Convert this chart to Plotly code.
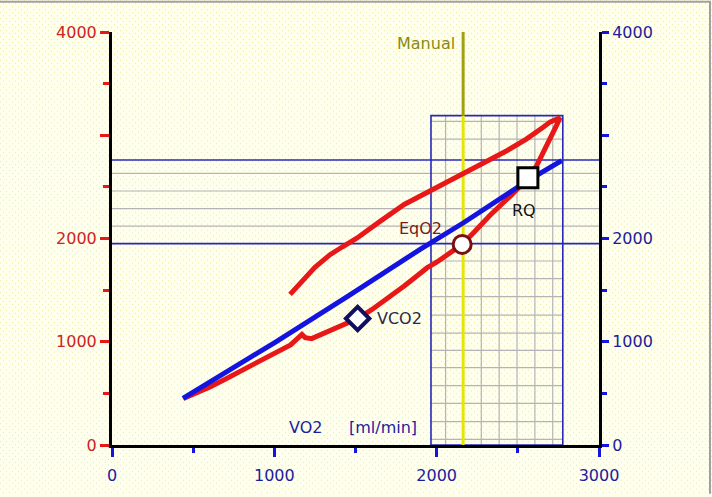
import plotly.graph_objects as go
import zlib, struct, base64

# ---------------- data ----------------
# red curve: VCO2 (left axis) vs VO2
vco2_x = [440, 520, 600, 700, 800, 900, 1000, 1100, 1170, 1190, 1230, 1300, 1420, 1513,
          1600, 1700, 1800, 1880, 1940, 2000, 2080, 2157, 2230, 2329, 2460, 2560, 2616,
          2680, 2740, 2760,
          2700, 2656, 2550, 2432, 2300, 2163, 2050, 1959, 1800, 1651, 1508, 1420, 1343,
          1250, 1170, 1097]
vco2_y = [450, 500, 560, 640, 720, 800, 880, 970, 1070, 1040, 1030, 1080, 1170, 1225,
          1310, 1420, 1540, 1640, 1715, 1770, 1860, 1943, 2060, 2226, 2420, 2580, 2706,
          2900, 3100, 3170,
          3130, 3078, 2960, 2850, 2740, 2630, 2540, 2466, 2330, 2166, 2003, 1920, 1843,
          1720, 1590, 1459]

# blue curve: VO2 (right axis) vs VO2
vo2_x = [437, 700, 1000, 1466, 1898, 2163, 2391, 2493, 2637, 2770]
vo2_y = [451, 700, 990, 1455, 1895, 2150, 2390, 2490, 2630, 2754]

# markers
marker_names = ["VCO2", "EqO2", "RQ"]
marker_x = [1513, 2157, 2562]
marker_y = [1225, 1943, 2588]

manual_x = 2163

# threshold band and zoom-grid
band_y = [1950, 2760]
band_grid_y = [2120, 2290, 2460, 2630]
rect_x = [1965, 2777]
rect_top = 3190
rect_grid_x = [2055, 2165, 2275, 2385, 2495, 2605, 2715]
rect_grid_y = [55, 227, 403, 576, 749, 916, 1084, 1257, 1437, 1612, 1782, 2962, 3135]

x_ticks = [0, 1000, 2000, 3000]
y_ticks = [0, 1000, 2000, 3000, 4000]
y_ticktext = ["0", "1000", "2000", "", "4000"]

RED = "#e81818"
BLUE = "#1414e0"
NAVY = "#1c1c9c"
LRED = "#d02222"
FONT = "DejaVu Sans"
FS = 16

# ---------- dotted background texture ----------
W, H = 712, 497
BG = bytes((255, 255, 238))
DOT = bytes((238, 234, 168))
rows = []
for yy in range(H):
    row = bytearray(b"\x00")
    for xx in range(W):
        if (yy % 6 == 0 and xx % 6 == 0) or (yy % 6 == 3 and xx % 6 == 3):
            row += DOT
        else:
            row += BG
    rows.append(bytes(row))
raw = b"".join(rows)

def chunk(tag, data):
    c = struct.pack(">I", len(data)) + tag + data
    return c + struct.pack(">I", zlib.crc32(tag + data) & 0xffffffff)

png = (b"\x89PNG\r\n\x1a\n" + chunk(b"IHDR", struct.pack(">IIBBBBB", W, H, 8, 2, 0, 0, 0))
       + chunk(b"IDAT", zlib.compress(raw, 9)) + chunk(b"IEND", b""))
bg_uri = "data:image/png;base64," + base64.b64encode(png).decode()

ML, MR, MT, MB = 112, 113, 32, 49
PW, PH = W - ML - MR, H - MT - MB

fig = go.Figure()

fig.add_trace(go.Scatter(x=vco2_x, y=vco2_y, mode="lines",
                         line=dict(color=RED, width=5), hoverinfo="skip"))
fig.add_trace(go.Scatter(x=vo2_x, y=vo2_y, mode="lines", yaxis="y2",
                         line=dict(color=BLUE, width=5), hoverinfo="skip"))
# markers
fig.add_trace(go.Scatter(x=[marker_x[0]], y=[marker_y[0]], mode="markers", yaxis="y2",
                         marker=dict(symbol="diamond", size=18, color="white",
                                     line=dict(color="#101060", width=4))))
fig.add_trace(go.Scatter(x=[marker_x[1]], y=[marker_y[1]], mode="markers", yaxis="y2",
                         marker=dict(symbol="circle", size=18, color="white",
                                     line=dict(color="#7a1010", width=3))))
fig.add_trace(go.Scatter(x=[marker_x[2]], y=[marker_y[2]], mode="markers", yaxis="y2",
                         marker=dict(symbol="square", size=20, color="white",
                                     line=dict(color="black", width=3))))

shapes = []
for gx in rect_grid_x:
    shapes.append(dict(type="line", xref="x", yref="y", x0=gx, x1=gx, y0=0, y1=rect_top,
                       line=dict(color="#b4b4b4", width=1.2), layer="below"))
for gy in rect_grid_y:
    shapes.append(dict(type="line", xref="x", yref="y", x0=rect_x[0], x1=rect_x[1], y0=gy, y1=gy,
                       line=dict(color="#b4b4b4", width=1.2), layer="below"))
for gy in band_grid_y:
    shapes.append(dict(type="line", xref="x", yref="y", x0=0, x1=3000, y0=gy, y1=gy,
                       line=dict(color="#b4b4b4", width=1.2), layer="below"))
for by in band_y:
    shapes.append(dict(type="line", xref="x", yref="y", x0=0, x1=3000, y0=by, y1=by,
                       line=dict(color="#2828b8", width=1.6), layer="below"))
shapes.append(dict(type="rect", xref="x", yref="y", x0=rect_x[0], x1=rect_x[1], y0=0, y1=rect_top,
                   line=dict(color="#2828b8", width=1.6), layer="below"))
shapes.append(dict(type="line", xref="x", yref="y", x0=manual_x, x1=manual_x, y0=rect_top, y1=4000,
                   line=dict(color="#a0a010", width=3), layer="below"))
shapes.append(dict(type="line", xref="x", yref="y", x0=manual_x, x1=manual_x, y0=0, y1=rect_top,
                   line=dict(color="#e6e600", width=3), layer="below"))
# window frame (top & right)
shapes.append(dict(type="line", xref="paper", yref="paper", x0=-ML / PW, x1=(W - 1) / PW * 1 - ML / PW,
                   y0=1 + (MT - 1.5) / PH, y1=1 + (MT - 1.5) / PH,
                   line=dict(color="#a0a0a0", width=2)))
shapes.append(dict(type="line", xref="paper", yref="paper", x0=(W - 2 - ML) / PW, x1=(W - 2 - ML) / PW,
                   y0=-MB / PH, y1=1 + (MT - 1.5) / PH,
                   line=dict(color="#a0a0a0", width=2)))

ann = []
def txt(t, x, y, color, xanchor="left", size=FS):
    ann.append(dict(text=t, x=x, y=y, xref="x", yref="y", showarrow=False, xanchor=xanchor,
                    yanchor="middle", font=dict(family=FONT, size=size, color=color)))

txt("VCO2", -197, 3134, LRED, "right")
txt("[ml/min]", -197, 2867, LRED, "right")
txt("VO2", 3192, 3138, NAVY)
txt("[ml/min]", 3192, 2883, NAVY)
txt("VO2", 1078, 173, NAVY)
txt("[ml/min]", 1448, 173, NAVY)
txt("Manual", 2126, 3884, "#8a8a10", "right")
txt(marker_names[1], 1756, 2099, "#7a1a1a")
txt(marker_names[2], 2452, 2274, "#101010")
txt(marker_names[0], 1620, 1226, "#2a2a44")

fig.update_layout(
    width=W, height=H,
    margin=dict(l=ML, r=MR, t=MT, b=MB),
    paper_bgcolor="#fffeea", plot_bgcolor="rgba(0,0,0,0)",
    showlegend=False,
    images=[dict(source=bg_uri, xref="paper", yref="paper", x=-ML / PW, y=1 + MT / PH,
                 sizex=W / PW, sizey=H / PH, xanchor="left", yanchor="top",
                 sizing="stretch", layer="below")],
    shapes=shapes, annotations=ann,
    xaxis=dict(range=[0, 3000], tickvals=x_ticks, showgrid=False, zeroline=False,
               showline=True, linecolor="black", linewidth=3,
               ticks="outside", ticklen=9, tickwidth=3, tickcolor=BLUE,
               tickfont=dict(family=FONT, size=FS, color=NAVY), ticklabelstandoff=5,
               minor=dict(dtick=500, ticks="outside", ticklen=5, tickwidth=3, tickcolor=BLUE)),
    yaxis=dict(range=[0, 4000], tickvals=y_ticks, ticktext=y_ticktext, showgrid=False,
               zeroline=False, showline=True, linecolor="black", linewidth=3,
               ticks="outside", ticklen=9, tickwidth=3, tickcolor=RED,
               tickfont=dict(family=FONT, size=FS, color=LRED),
               minor=dict(dtick=500, ticks="outside", ticklen=6, tickwidth=3, tickcolor=RED)),
    yaxis2=dict(range=[0, 4000], overlaying="y", side="right", tickvals=y_ticks,
                ticktext=y_ticktext, showgrid=False, zeroline=False, showline=True,
                linecolor="black", linewidth=3,
                ticks="outside", ticklen=7, tickwidth=3, tickcolor=BLUE,
                tickfont=dict(family=FONT, size=FS, color=NAVY),
                minor=dict(dtick=500, ticks="outside", ticklen=5, tickwidth=3, tickcolor=BLUE)),
)

fig.write_html("out.html")
